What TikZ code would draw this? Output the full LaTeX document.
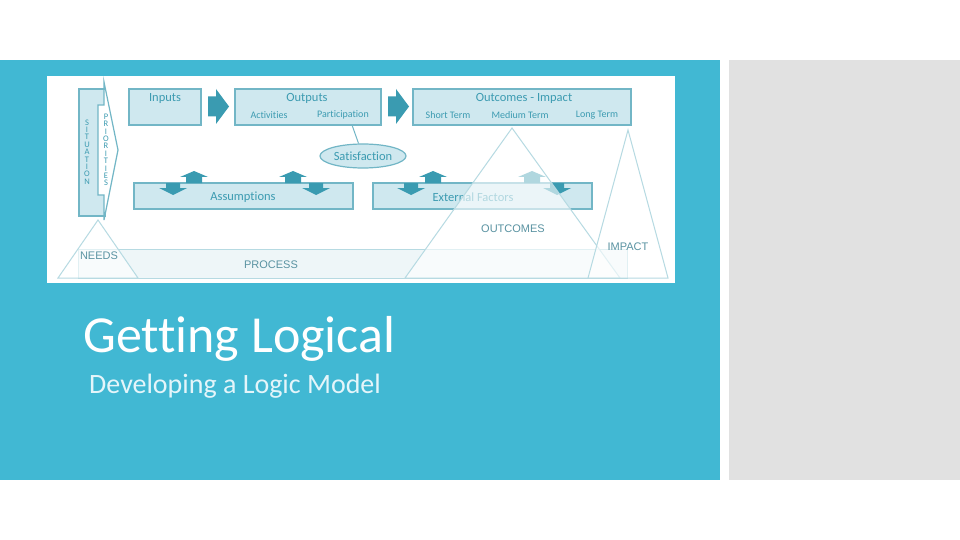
\documentclass[tikz,border=0pt]{standalone}
\usepackage{fontspec}
\setmainfont{Carlito}[Ligatures={NoCommon}]
\newfontfamily\arialf{Liberation Sans}
\usetikzlibrary{shapes.geometric,calc}
\definecolor{panel}{HTML}{41B8D3}
\definecolor{grayp}{HTML}{E1E1E1}
\definecolor{boxfill}{HTML}{CFE8EF}
\definecolor{boxline}{HTML}{72B6C6}
\definecolor{tealtxt}{HTML}{3C9BB1}
\definecolor{arrowc}{HTML}{3A9BB1}
\definecolor{triline}{HTML}{B6DAE2}
\definecolor{bandfill}{HTML}{EEF6F8}
\definecolor{lbl}{HTML}{5A93A2}
\definecolor{subt}{HTML}{E4F5FA}
\tikzset{
  lmbox/.style={draw=boxline, fill=boxfill, line width=1.2pt, inner sep=0pt},
  mainlbl/.style={text=tealtxt, font=\fontsize{12.5}{12.5}\selectfont, inner sep=0pt},
  sublbl/.style={text=tealtxt, font=\fontsize{10}{10}\selectfont, inner sep=0pt},
  biglbl/.style={text=lbl, font=\arialf\fontsize{11}{11}\selectfont, inner sep=0pt},
  vertlbl/.style={text=tealtxt, font=\fontsize{8.5}{7.4}\selectfont, align=center, inner sep=0pt},
  tri/.style={draw=triline, line width=1pt, fill=white, fill opacity=0.6},
  pics/blockarr/.style={code={\fill[arrowc] (0,-10) -- (8,-10) -- (8,-17.5) -- (21,0) -- (8,17.5) -- (8,10) -- (0,10) -- cycle;}},
  pics/uparr/.style={code={\fill[arrowc] (-8,0) -- (-8,-6) -- (-14,-6) -- (0,-12) -- (14,-6) -- (8,-6) -- (8,0) -- cycle;}},
  pics/dnarr/.style={code={\fill[arrowc] (-7,0) -- (-7,5) -- (-14,5) -- (0,12) -- (14,5) -- (7,5) -- (7,0) -- cycle;}},
}
\begin{document}
\begin{tikzpicture}[x=1pt,y=-1pt]
\useasboundingbox (0,0) rectangle (960,540);
\fill[white] (0,0) rectangle (960,540);
\fill[panel] (0,60) rectangle (720,480);
\fill[grayp] (729,60) rectangle (960,480);
\fill[white] (47,76) rectangle (675,283);

% process band and needs
\node[draw=triline, fill=bandfill, line width=1pt, minimum width=549pt, minimum height=29pt, inner sep=0pt] (band) at (352.5,263.5) {};
\filldraw[tri] (98,220) -- (58,278) -- (138,278) -- cycle;

% situation and priorities
\node[lmbox, minimum width=26pt, minimum height=127pt] (situation) at (92,152.5) {};
\filldraw[draw=boxline, fill=white, line width=1.2pt] (98,105) -- (104,105) -- (104,82) -- (118,150) -- (104,220) -- (104,195) -- (98,195) -- cycle;
\node[vertlbl] (sitlbl) at (87,152) {S\\I\\T\\U\\A\\T\\I\\O\\N};
\node[vertlbl] (prilbl) at (106,150) {P\\R\\I\\O\\R\\I\\T\\I\\E\\S};

% top boxes
\node[lmbox, minimum width=72pt, minimum height=36pt] (inputs) at (165,107) {};
\node[lmbox, minimum width=146pt, minimum height=36pt] (outputs) at (308,107) {};
\node[lmbox, minimum width=218pt, minimum height=36pt] (outcomes) at (522,107) {};
\node[mainlbl] (inputslbl) at (165,98) {Inputs};
\node[mainlbl] (outputslbl) at (307,98) {Outputs};
\node[sublbl] (act) at (269,115) {Activities};
\node[sublbl] (part) at (343,115) {Participation};
\node[mainlbl] (outcomeslbl) at (524,98) {Outcomes - Impact};
\node[sublbl] (st) at (448,115) {Short Term};
\node[sublbl] (mt) at (520,115) {Medium Term};
\node[sublbl] (lt) at (597,115) {Long Term};

\pic at (208,106.5) {blockarr};
\pic at (388,106.5) {blockarr};

% satisfaction
\node[ellipse, draw=boxline, fill=boxfill, line width=1.2pt, minimum width=86pt, minimum height=24pt, inner sep=0pt, mainlbl] (sat) at (363,156) {Satisfaction};
\coordinate (partp) at (352,125);
\draw[boxline, line width=1pt] (partp) -- (sat);

% lower boxes
\node[lmbox, minimum width=219pt, minimum height=26pt] (assump) at (243.5,196) {};
\node[mainlbl] (assumplbl) at (243,197) {Assumptions};
\node[lmbox, minimum width=219pt, minimum height=26pt] (ext) at (482.5,196) {};
\node[mainlbl] (extlbl) at (473,197) {External Factors};

\pic at (194,183) {uparr};
\pic at (173,183) {dnarr};
\pic at (293,183) {uparr};
\pic at (316,183) {dnarr};
\pic at (433,183) {uparr};
\pic at (411,183) {dnarr};
\pic at (532,183) {uparr};
\pic at (557,183) {dnarr};

% triangles
\filldraw[tri] (512,128) -- (405,278) -- (620,278) -- cycle;
\filldraw[tri] (628,130) -- (588,278) -- (668,278) -- cycle;

\node[biglbl] (needs) at (99,256) {NEEDS};
\node[biglbl] (process) at (271,265) {PROCESS};
\node[biglbl] (outc) at (513,229) {OUTCOMES};
\node[biglbl] (impact) at (628,247) {IMPACT};

% titles
\node[anchor=base west, text=white, font=\fontsize{52}{52}\selectfont, inner sep=0pt] (title) at (83,352) {Getting Logical};
\node[anchor=base west, text=subt, font=\fontsize{28}{28}\selectfont, inner sep=0pt] (subtitle) at (89,393) {Developing a Logic Model};
\end{tikzpicture}
\end{document}
